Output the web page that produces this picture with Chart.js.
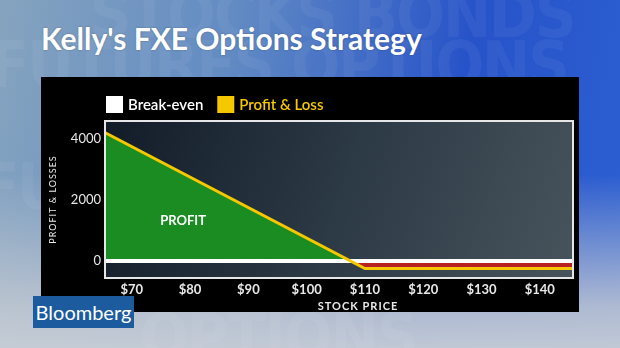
<!DOCTYPE html>
<html>
<head>
<meta charset="utf-8">
<script src="https://cdn.jsdelivr.net/npm/chart.js@4.4.1/dist/chart.umd.min.js"></script>
<style>
html,body{margin:0;padding:0;}
body{
width:620px;height:348px;overflow:hidden;position:relative;
font-family:Lato,"Open Sans",sans-serif;
background:
linear-gradient(180deg,rgba(200,205,212,0) 50%,rgba(196,202,210,0.85) 88%,rgba(200,206,214,0.95) 100%),
linear-gradient(100deg,#86a4bf 0%,#628bc3 35%,#2753c9 70%,#2c5fd2 100%);
}
.wm{position:absolute;font-family:"DejaVu Sans Condensed","DejaVu Sans",sans-serif;font-weight:bold;color:rgba(255,255,255,0.05);white-space:nowrap;letter-spacing:-2px;}
#title{position:absolute;left:41px;top:20px;color:#fff;font-weight:bold;font-size:30px;text-shadow:0 0 2px rgba(0,0,0,0.3);}
#panel{position:absolute;left:41px;top:77px;width:538px;height:235px;background:#000;}
#logo{position:absolute;left:33px;top:296px;width:101px;height:32px;background:#1c5b9e;color:#fff;font-size:20px;line-height:32px;text-align:center;}
</style>
</head>
<body>
<div class="wm" style="left:90px;top:-22px;font-size:64px;">STOCKS BONDS</div>
<div class="wm" style="left:-10px;top:28px;font-size:64px;">FUTURES OPTIONS</div>
<div class="wm" style="left:-20px;top:150px;font-size:64px;">FUTURES</div>
<div class="wm" style="left:140px;top:300px;font-size:64px;">OPTIONS</div>
<div id="title">Kelly's FXE Options Strategy</div>
<div id="panel"><canvas id="chart" width="538" height="235"></canvas></div>
<div id="logo">Bloomberg</div>
<script>
// ---------------- data ----------------
const prices = [65, 110, 150];
const pnl = [4250, -250, -250];

const breakEvenPrices = [65, 150];
const breakEvenValues = [0, 0];

const xTicks = [70, 80, 90, 100, 110, 120, 130, 140];
const yTicks = [0, 2000, 4000];

const legendNames = ["Break-even", "Profit & Loss"];
const legendColors = ["#ffffff", "#f5c800"];

const profitLabel = {text: "PROFIT", x: 78.8, y: 1300};

// ---------------- helpers ----------------
function toPoints(xs, ys){
return xs.map((x, i) => ({x: x, y: ys[i]}));
}

// plot background, border, legend, axis titles
const decor = {
id: "decor",
beforeDraw(chart){
const a = chart.chartArea;
const ctx = chart.ctx;
const g = ctx.createLinearGradient(a.left, a.top, a.right, a.bottom);
g.addColorStop(0, "#121c28");
g.addColorStop(0.5, "#2c3a46");
g.addColorStop(1, "#48545c");
ctx.save();
ctx.fillStyle = g;
ctx.fillRect(a.left, a.top, a.right - a.left, a.bottom - a.top);
ctx.restore();
},
afterDatasetsDraw(chart){
const ctx = chart.ctx;
const xs = chart.scales.x, ys = chart.scales.y;
ctx.save();
ctx.fillStyle = "#ffffff";
ctx.font = "bold 13px Lato";
ctx.textAlign = "center";
ctx.textBaseline = "middle";
ctx.fillText(profitLabel.text, xs.getPixelForValue(profitLabel.x), ys.getPixelForValue(profitLabel.y));
ctx.restore();
},
afterDraw(chart){
const a = chart.chartArea;
const ctx = chart.ctx;
ctx.save();
ctx.strokeStyle = "#e6e6e6";
ctx.lineWidth = 2;
ctx.strokeRect(a.left, a.top, a.right - a.left, a.bottom - a.top);

// legend
ctx.font = "600 15px Lato";
ctx.textBaseline = "middle";
let lx = a.left + 1;
legendNames.forEach((name, i) => {
ctx.fillStyle = legendColors[i];
ctx.fillRect(lx, 19, 17, 17);
ctx.fillText(name, lx + 22, 28);
lx += 22 + ctx.measureText(name).width + 14;
});

// x axis title
ctx.fillStyle = "#e8e8e8";
ctx.font = "bold 11px Lato";
ctx.textAlign = "center";
ctx.letterSpacing = "1px";
ctx.fillText("STOCK PRICE", 317, 229);

// y axis title
ctx.translate(12, (a.top + a.bottom) / 2);
ctx.rotate(-Math.PI / 2);
ctx.font = "9px Lato";
ctx.fillText("PROFIT & LOSSES", 0, 0);
ctx.restore();
}
};

// ==================== CHART ====================
const ctx = document.getElementById("chart");

new Chart(ctx, {

type: "line",

data: {
datasets: [{
label: "Break-even",
data: toPoints(breakEvenPrices, breakEvenValues),
borderColor: "#ffffff",
borderWidth: 4,
pointRadius: 0,
fill: false,
order: 1
}, {
label: "Profit & Loss",
data: toPoints(prices, pnl),
borderColor: "#f5c800",
borderWidth: 3,
pointRadius: 0,
fill: {target: "origin", above: "#1a8c22", below: "#b8221e"},
order: 0
}]
},

options: {
responsive: false,
animation: false,
layout: {padding: {left: 0, right: 6, top: 44, bottom: 0}},
plugins: {
legend: {display: false},
tooltip: {enabled: false},
filler: {drawTime: "beforeDatasetsDraw"}
},
scales: {
x: {
type: "linear",
min: 65.4,
max: 145.7,
grid: {display: false, drawTicks: false, tickLength: 0},
border: {display: false},
afterBuildTicks: axis => { axis.ticks = xTicks.map(v => ({value: v})); },
afterFit: scale => { scale.height = 34; },
ticks: {
color: "#e8e8e8",
font: {family: "Lato", size: 13, weight: "bold"},
padding: 4,
callback: v => "$" + v
}
},
y: {
min: -560,
max: 4590,
grid: {display: false, drawTicks: false, tickLength: 0},
border: {display: false},
afterBuildTicks: axis => { axis.ticks = yTicks.map(v => ({value: v})); },
afterFit: scale => { scale.width = 64; },
ticks: {
color: "#e8e8e8",
font: {family: "Lato", size: 13},
padding: 4,
callback: v => String(v)
}
}
}
},

plugins: [decor]

});
</script>
</body>
</html>
